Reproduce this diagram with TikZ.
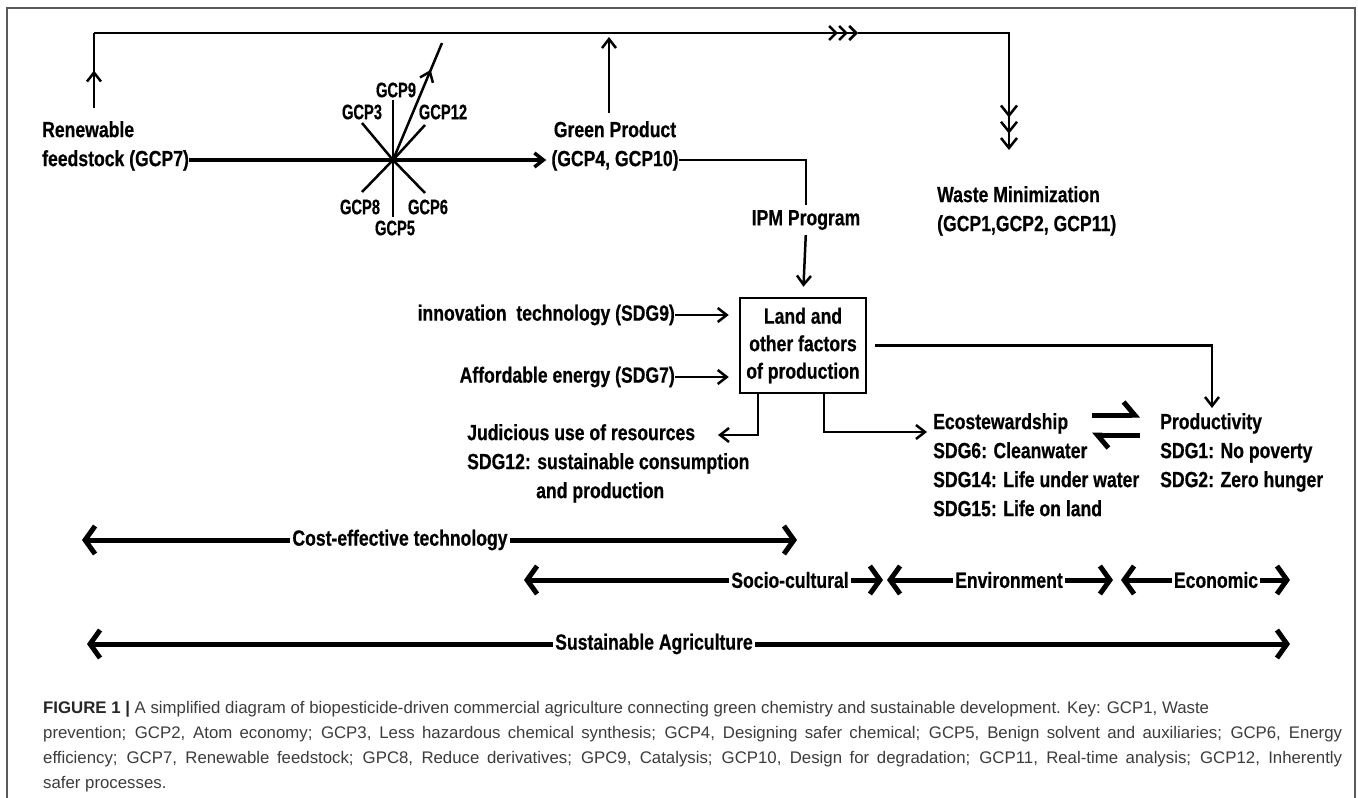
\documentclass[tikz,border=0pt]{standalone}
\usepackage{fontspec}
\setmainfont{Liberation Sans}
\newfontfamily\narrowfont{Liberation Sans}[FakeStretch=0.8, FakeBold=0.5]
\newfontfamily\gcpfont{Liberation Sans}[FakeStretch=0.7, FakeBold=0.5]
\newcommand{\diagtext}{\narrowfont\bfseries\fontsize{22}{29}\selectfont}
\newcommand{\gcptext}{\gcpfont\bfseries\fontsize{21}{24}\selectfont}
\newcommand{\captext}{\fontsize{16.8}{25}\selectfont}
\usetikzlibrary{arrows.meta,calc,decorations.markings}
\definecolor{framegray}{HTML}{5A5A5A}
\definecolor{captiongray}{HTML}{3C3C3C}
\tikzset{lbl/.style = {font=\diagtext, align=left, inner sep=0pt},
         gcp/.style = {font=\gcptext, inner sep=0pt},
         axlbl/.style = {font=\diagtext, fill=white, inner sep=2pt},
         link/.style = {line width=2.5pt},
         flow/.style = {line width=2.5pt, -{Straight Barb[length=9pt,width=14pt]}},
         axisarrow/.style = {line width=5pt, -{Straight Barb[length=10pt,width=28pt]}},
         eqarrow/.style = {line width=5pt, -{Straight Barb[harpoon,length=11pt,width=26pt]}},
         factorbox/.style = {draw, line width=2.5pt, minimum width=126pt, minimum height=95pt,
                             align=center, inner sep=0pt, font=\narrowfont\bfseries\fontsize{22}{27.5}\selectfont},
         frame/.style = {draw=framegray, line width=2pt},
         midarrow/.style = {postaction={decorate}, decoration={markings,
                            mark=at position #1 with {\arrow{Straight Barb[length=9pt,width=14pt]}}}},
         triplebarb/.tip = {Straight Barb[length=7pt,width=14pt,sep=0pt] Straight Barb[length=7pt,width=14pt,sep=0pt] Straight Barb[length=7pt,width=14pt]},
         tripledown/.tip = {Straight Barb[length=10pt,width=16pt,sep=3pt] Straight Barb[length=10pt,width=16pt,sep=3pt] Straight Barb[length=10pt,width=16pt]}}

\begin{document}
\begin{tikzpicture}[x=1pt, y=-1pt]
    \fill[white] (0,0) rectangle (1358,798);
    \useasboundingbox (0,0) rectangle (1358,798);
    \draw[frame] (7,798) -- (7,8) -- (1355,8) -- (1355,798);

    % green chemistry inputs
    \node[lbl, anchor=north west] (renew) at (42,121) {Renewable\\feedstock (GCP7)};
    \node[lbl, align=center, anchor=north] (green) at (615,121) {Green Product\\(GCP4, GCP10)};
    \node[lbl, anchor=north west] (waste) at (937,186) {Waste Minimization\\(GCP1,GCP2, GCP11)};
    \node[lbl] (ipm) at (806,220) {IPM Program};

    \coordinate (hub) at (393,160);
    \coordinate (s9top) at (393,100);
    \coordinate (s5bot) at (393,217);
    \coordinate (s3) at (362,123);
    \coordinate (s6) at (425,193);
    \coordinate (s12) at (425,125);
    \coordinate (s8) at (362,192);
    \coordinate (s9end) at (442,43);

    \node[gcp] (g9) at (396,90) {GCP9};
    \node[gcp] (g3) at (362,112) {GCP3};
    \node[gcp] (g12) at (443,112) {GCP12};
    \node[gcp] (g8) at (360,207) {GCP8};
    \node[gcp] (g6) at (428,207) {GCP6};
    \node[gcp] (g5) at (395,228) {GCP5};

    \draw[link] (s9top) -- (s5bot);
    \draw[link] (s3) -- (hub) -- (s6);
    \draw[link] (s12) -- (hub) -- (s8);
    \draw[link, midarrow=0.77] (hub) -- (s9end);
    \draw[flow, line width=3.5pt, shorten >=5pt] (renew.east |- hub) -- (green.west |- hub);

    % feedback loop over the top
    \coordinate (loopA) at (94,33);
    \coordinate (loopB) at (1009,33);
    \coordinate (loopT) at (858,33);
    \coordinate (wasteTip) at (1009,150);
    \draw[link, midarrow=0.5] ($(renew.north -| loopA)+(0,-13)$) -- (loopA);
    \draw[link, -{triplebarb}] (loopA) -- (loopT);
    \draw[link, -{tripledown}] (loopT) -- (loopB) -- (wasteTip);
    \draw[flow, shorten >=4pt] ($(green.north)+(-6,-8)$) -- ($(green.north |- loopA)+(-6,0)$);
    \draw[link, shorten >=5pt] (green.east |- hub) -| (ipm.north);

    % factors of production
    \node[factorbox] (box) at (803,345.5) {Land and\\other factors\\of production};
    \node[lbl, anchor=east] (innov) at (675,315) {innovation~ technology (SDG9)};
    \node[lbl, anchor=east] (afford) at (675,377) {Affordable energy (SDG7)};
    \node[lbl, anchor=north west] (judi) at (467,424) {Judicious use of resources\\SDG12: sustainable consumption\\\hspace*{69pt}and production};
    \node[lbl, anchor=north west] (eco) at (933,413) {Ecostewardship\\SDG6: Cleanwater\\SDG14: Life under water\\SDG15: Life on land};
    \node[lbl, anchor=north west] (prod) at (1160,413) {Productivity\\SDG1: No poverty\\SDG2: Zero hunger};

    \draw[flow, shorten <=5pt, shorten >=10pt] (ipm.south) -- (box.north);
    \draw[flow, shorten >=10pt] (innov.east) -- (box.west |- innov.east);
    \draw[flow, shorten >=10pt] (afford.east) -- (box.west |- afford.east);
    \draw[flow] ($(box.south west)+(19,0)$) |- ($(judi.north west)+(251,11)$);
    \draw[flow] ($(box.south west)+(85,0)$) |- ($(eco.west |- eco.north)+(-6,19)$);
    \draw[flow] ($(box.east)+(8,0)$) -| ($(prod.north west)+(52,-5)$);

    \coordinate (eqR1) at (1092,415);
    \coordinate (eqR2) at (1140,415);
    \coordinate (eqL1) at (1140,435);
    \coordinate (eqL2) at (1092,435);
    \draw[eqarrow] (eqR1) -- (eqR2);
    \draw[eqarrow] (eqL1) -- (eqL2);

    % sustainability scales
    \node[axlbl] (cost) at (400,540) {Cost-effective technology};
    \coordinate (costL) at (82,540);
    \coordinate (costR) at (797,540);
    \draw[axisarrow] (cost) -- (costL);
    \draw[axisarrow] (cost) -- (costR);

    \node[axlbl] (socio) at (790,580) {Socio-cultural};
    \node[axlbl] (env) at (1009,580) {Environment};
    \node[axlbl] (econ) at (1216,580) {Economic};
    \coordinate (socioL) at (524,580);
    \coordinate (socioR) at (883,580);
    \coordinate (envL) at (887,580);
    \coordinate (envR) at (1113,580);
    \coordinate (econL) at (1121,580);
    \coordinate (econR) at (1290,580);
    \draw[axisarrow] (socio) -- (socioL);
    \draw[axisarrow] (socio) -- (socioR);
    \draw[axisarrow] (env) -- (envL);
    \draw[axisarrow] (env) -- (envR);
    \draw[axisarrow] (econ) -- (econL);
    \draw[axisarrow] (econ) -- (econR);

    \node[axlbl] (sust) at (654,644) {Sustainable Agriculture};
    \coordinate (sustL) at (87,644);
    \coordinate (sustR) at (1290,644);
    \draw[axisarrow] (sust) -- (sustL);
    \draw[axisarrow] (sust) -- (sustR);

    % caption
    \node[anchor=north west, align=left, inner sep=0pt, font=\captext, text=captiongray] (caption) at (43,701)
        {{\bfseries\color{black!85} FIGURE 1 |} A simplified diagram of biopesticide-driven commercial agriculture connecting green chemistry and sustainable development. Key: GCP1, Waste\\
         \makebox[1299pt][s]{prevention; GCP2, Atom economy; GCP3, Less hazardous chemical synthesis; GCP4, Designing safer chemical; GCP5, Benign solvent and auxiliaries; GCP6, Energy}\\
         \makebox[1299pt][s]{efficiency; GCP7, Renewable feedstock; GPC8, Reduce derivatives; GPC9, Catalysis; GCP10, Design for degradation; GCP11, Real-time analysis; GCP12, Inherently}\\
         safer processes.};
\end{tikzpicture}
\end{document}
